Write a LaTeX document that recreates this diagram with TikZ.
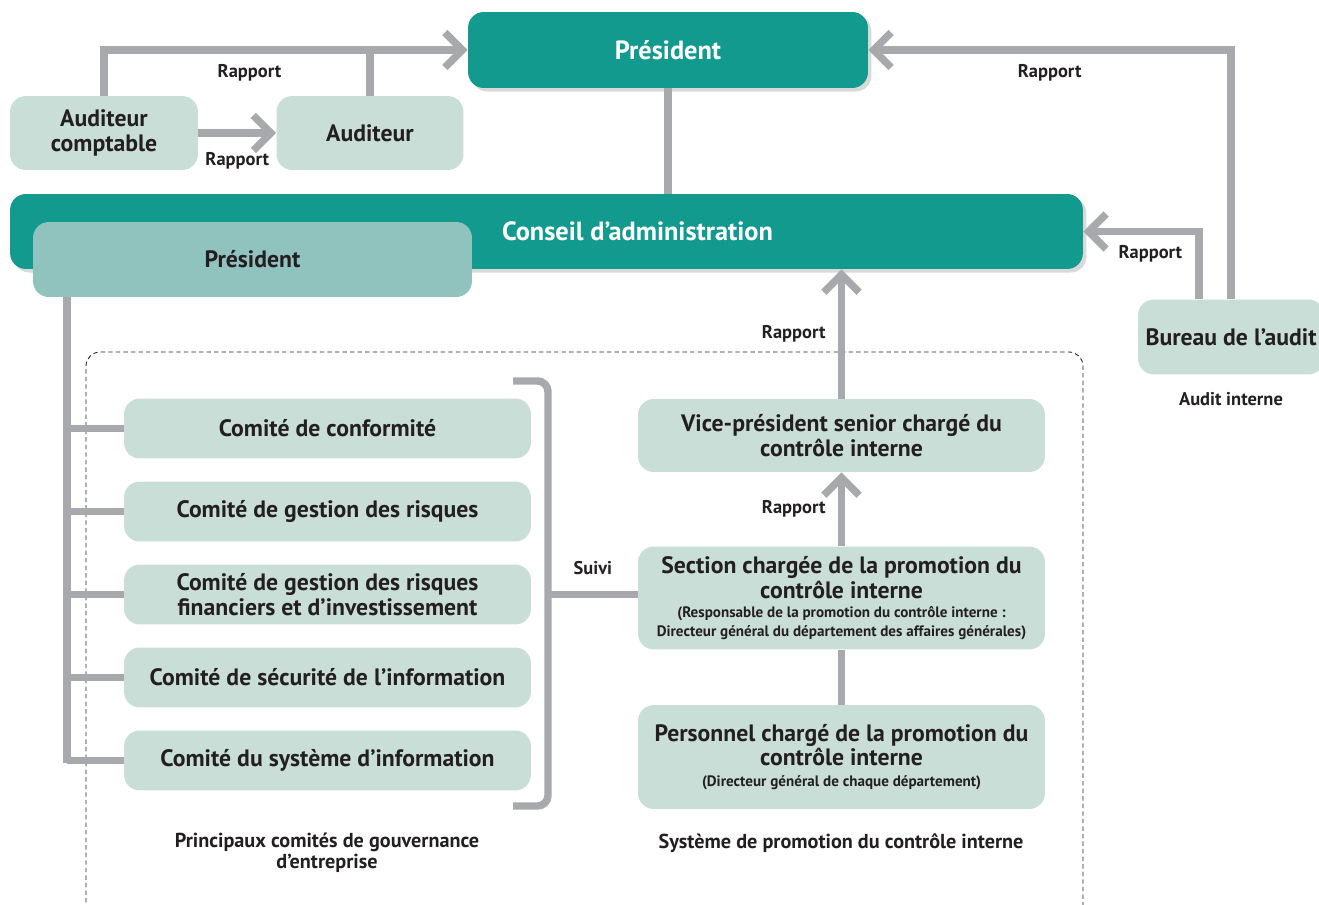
\documentclass[tikz,border=0pt]{standalone}
\usepackage{fontspec}
\setmainfont{PT Sans}
\usepackage{tikz}
\usetikzlibrary{positioning,arrows.meta,shadows}

\definecolor{teal1}{HTML}{139A8F}
\definecolor{teal2}{HTML}{90C2BE}
\definecolor{pale}{HTML}{C9DED7}
\definecolor{wire}{HTML}{A7A9AC}
\definecolor{ink}{HTML}{231F20}
\newcommand{\smalltxt}{\fontsize{8.6}{9.5}\selectfont}

\begin{document}
\begin{tikzpicture}[x=0.02cm,y=-0.02cm]
	\tikzset{box/.style={fill=pale,rounded corners=9pt,text=ink,align=center,
			font=\fontsize{13.5}{14}\selectfont\bfseries,inner sep=1pt,minimum width=8.14cm},
		head/.style={box,fill=teal1,text=white,font=\fontsize{15}{16}\selectfont\bfseries,
			drop shadow={opacity=0.3,shadow xshift=2pt,shadow yshift=-2pt}},
		lab/.style={text=ink,font=\fontsize{10.5}{11}\selectfont\bfseries,inner sep=1pt},
		captxt/.style={lab,align=center,font=\fontsize{11.5}{12}\selectfont\bfseries},
		wire/.style={draw=wire,line width=4.25pt},
		arr/.style={wire,-{Straight Barb[length=10pt,width=20pt]}}}
	\useasboundingbox (0,0) rectangle (1319,905);
	% frame of the two systems
	\draw[ink,line width=0.5pt,dash pattern=on 2.5pt off 1.8pt,rounded corners=8pt]
		(86,910) -- (86,352) -- (1083,352) -- (1083,910);
	% top level
	\node[head,minimum width=8cm,minimum height=1.52cm] (pres) at (668,50) {Président};
	\node[box,minimum width=3.76cm,minimum height=1.48cm] (audc) at (104,133) {Auditeur\\comptable};
	\node[box,minimum width=3.74cm,minimum height=1.48cm] (aud) at (370,133) {Auditeur};
	\node[box,minimum width=3.72cm,minimum height=1.5cm] (bur) at (1231,337) {Bureau de l’audit};
	\node[lab] (audint) at (1231,399) {Audit interne};
	\draw[wire] (pres.south) -- (pres.south |- 0,200);
	\node[head,minimum width=21.46cm,minimum height=1.5cm,
		label={[xshift=1.82cm,text=white,font=\fontsize{15}{16}\selectfont\bfseries]center:Conseil d’administration}]
		(cons) at (546.5,231.5) {};
	\node[box,fill=teal2,minimum width=8.78cm,minimum height=1.5cm] (presb) at (252.5,259.5) {Président};
	% reports to the president
	\draw[arr] (audc.north) |- (pres.west) node[lab,pos=0.7,below=5pt] {Rapport};
	\draw[wire] (aud.north) -- (aud.north |- pres.west);
	\path (audc) edge[arr] node[lab,below=8pt] {Rapport} (aud);
	\draw[arr] (bur.north) |- (pres.east) node[lab,pos=0.75,below=5pt] {Rapport};
	\draw[arr] ([xshift=-0.64cm]bur.north) |- (cons.east) node[lab,pos=0.71,below=5pt] {Rapport};
	% committees
	\foreach \n/\y/\t in {c1/428.5/Comité de conformité,
			c2/511.5/Comité de gestion des risques,
			c3/594.5/{Comité de gestion des risques\\financiers et d’investissement},
			c4/677.5/Comité de sécurité de l’information,
			c5/760.5/Comité du système d’information}{
		\node[box,minimum height=1.2cm] (\n) at (327.5,\y) {\t};
		\draw[wire] (\n.west) -- (67,\y);
	}
	\draw[wire] (67,297) -- (67,762.6);
	\draw[wire,rounded corners=6pt] (513,381) -- (548,381) -- (548,806) -- (513,806);
	\coordinate (brk) at (548,594.5);
	% internal control
	\node[box,minimum height=1.46cm] (vp) at (841.5,435.5) {Vice-président senior chargé du\\contrôle interne};
	\node[box,minimum height=2.06cm] (sec) at (841.5,598)
		{Section chargée de la promotion du\\contrôle interne\\[-3pt]
		\smalltxt (Responsable de la promotion du contrôle interne :\\[-3.5pt]
		\smalltxt Directeur général du département des affaires générales)};
	\node[box,minimum height=2.08cm] (pers) at (841.5,757)
		{Personnel chargé de la promotion du\\contrôle interne\\[-2pt]
		\smalltxt (Directeur général de chaque département)};
	\path (brk) edge[wire] node[lab,above=8pt] {Suivi} (brk -| sec.west);
	\path
		(sec) edge[arr] node[lab,left=6pt] {Rapport} (vp)
		(vp.north) edge[arr] node[lab,left=6pt] {Rapport} (vp.north |- cons.south);
	\draw[wire] (sec) -- (pers);
	% captions
	\node[captxt] (capl) at (327,853) {Principaux comités de gouvernance\\d'entreprise};
	\node[captxt] (capr) at (841,843) {Système de promotion du contrôle interne};
\end{tikzpicture}
\end{document}
